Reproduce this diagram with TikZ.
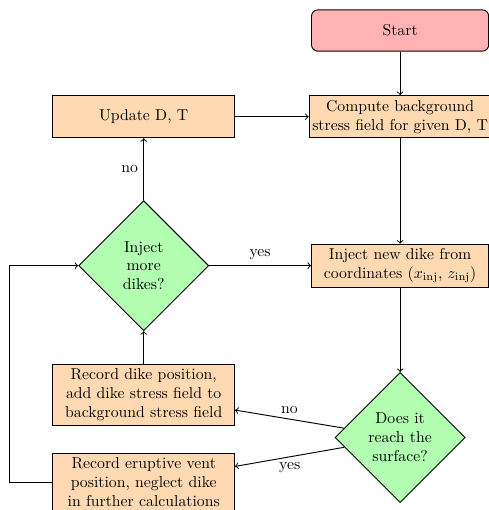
\documentclass[tikz,border=0pt]{standalone}
\usepackage{amsmath,amssymb,amsfonts}
\usepackage{xcolor}
\usepackage{tikz}
\usetikzlibrary{shapes.geometric, arrows, positioning}
\tikzstyle{arrow} = [semithick,->]

\begin{document}
\begin{tikzpicture}[node distance=1cm]
    \tikzstyle{startstop} = [rectangle, rounded corners, draw, semithick, fill=red!30, minimum width=3.95cm, minimum height=0.92cm, text centered]
    \tikzstyle{process} = [rectangle, draw, semithick, fill=orange!30, minimum width=3.95cm, minimum height=0.94cm, inner xsep=2pt, inner ysep=2.6pt, align=center]
    \tikzstyle{decision} = [diamond, draw, semithick, fill=green!30, minimum width=2.9cm, minimum height=2.9cm, aspect=1, inner sep=1pt, align=center]

    \useasboundingbox (0,0) rectangle (10.88,-11.37);

    \node[startstop] (start) at (8.92,-0.68) {Start};
    \node[process, below=0.97cm of start] (compute) {Compute background\\stress field for given D, T};
    \node[process, below=2.35cm of compute, minimum height=0.96cm] (injnew) {Inject new dike from\\coordinates ($x_{\mathrm{inj}}$, $z_{\mathrm{inj}}$)};
    \node[decision, below=1.88cm of injnew] (surface) {Does it\\reach the\\surface?};
    \node[decision, left=2.27cm of injnew] (more) {Inject\\more\\dikes?};
    \node[process, minimum width=4.05cm] (update) at (more |- compute) {Update D, T};
    \node[process, below=0.74cm of more, minimum width=4.05cm] (recdike) {Record dike position,\\add dike stress field to\\background stress field};
    \node[process, below=0.62cm of recdike, minimum width=4.05cm] (recvent) {Record eruptive vent\\position, neglect dike\\in further calculations};

    \draw[arrow] (start) -- (compute);
    \draw[arrow] (compute) -- (injnew);
    \draw[arrow] (injnew) -- (surface);
    \draw[arrow] (surface) -- node[midway, above] {no} (recdike);
    \draw[arrow] (surface) -- node[midway, below] {yes} (recvent);
    \draw[arrow] (recdike) -- (more);
    \draw[arrow] (recvent.west) -- ++(-0.96,0) |- (more.west);
    \draw[arrow] (more) -- node[midway, above] {yes} (injnew);
    \draw[arrow] (more) -- node[midway, left] {no} (update);
    \draw[arrow] (update) -- (compute);
\end{tikzpicture}
\end{document}
